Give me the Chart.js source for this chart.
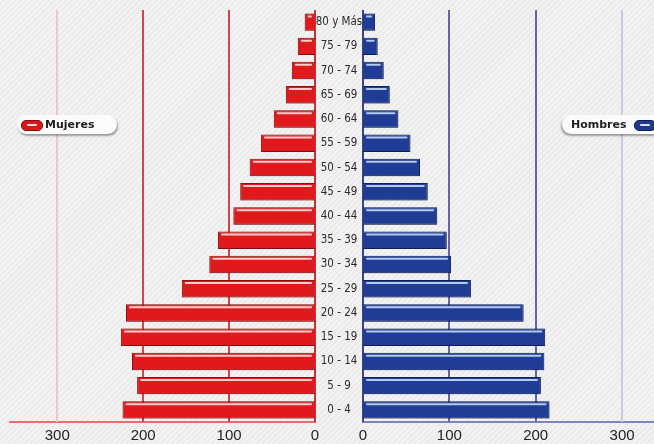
<!DOCTYPE html>
<html>
<head>
<meta charset="utf-8">
<script src="https://cdn.jsdelivr.net/npm/chart.js@4/dist/chart.umd.min.js"></script>
<style>
  html, body { margin: 0; padding: 0; }
  body {
    width: 654px; height: 444px; overflow: hidden; position: relative;
    background: repeating-linear-gradient(135deg, #f3f3f3 0px, #f3f3f3 2px, #ebebeb 2px, #ebebeb 4px);
  }
  canvas { position: absolute; top: 0; }
  #left { left: 0; }
  #right { left: 315px; }
  .pill {
    position: absolute; top: 115px; height: 19px;
    background: #fbfbfb; border-radius: 10px;
    font: bold 11px "DejaVu Sans", sans-serif; color: #222;
    line-height: 19px; white-space: nowrap;
  }
  .pill .ico {
    position: absolute; top: 5px; width: 20px; height: 9px; border-radius: 5px;
  }
  .pill .ico::after {
    content: ""; position: absolute; left: 5px; right: 5px; top: 3px; height: 2px;
    background: rgba(255,255,255,0.85); border-radius: 1px;
  }
  #legM { left: 17px; width: 100px; box-shadow: 1px 2px 2px rgba(0,0,0,0.35); }
  #legM .ico { left: 4px; background: #d9171c; border: 1px solid #8e0c0c; }
  #legM span { position: absolute; left: 28px; }
  #legH { left: 562px; width: 110px; box-shadow: -1px 2px 2px rgba(0,0,0,0.35); }
  #legH .ico { left: 72px; background: #1e3a8e; border: 1px solid #0d1f55; }
  #legH span { position: absolute; left: 9px; }
</style>
</head>
<body>
<canvas id="left" width="339" height="444"></canvas>
<canvas id="right" width="339" height="444"></canvas>
<div class="pill" id="legM"><div class="ico"></div><span>Mujeres</span></div>
<div class="pill" id="legH"><span>Hombres</span><div class="ico"></div></div>
<script>
const ageGroups = ['80 y Más', '75 - 79', '70 - 74', '65 - 69', '60 - 64', '55 - 59', '50 - 54',
  '45 - 49', '40 - 44', '35 - 39', '30 - 34', '25 - 29', '20 - 24', '15 - 19', '10 - 14', '5 - 9', '0 - 4']
const mujeres = [12, 20, 27, 34, 48, 63, 76, 87, 95, 113, 123, 155, 220, 226, 213, 207, 224]
const hombres = [14, 17, 24, 31, 41, 55, 66, 75, 86, 97, 102, 125, 186, 211, 210, 206, 216]
const xTicks = [0, 100, 200, 300]

// vertical lines drawn at the tick values of the x scale
function gridPlugin(cols) {
  return {
    id: 'vgrid',
    beforeDatasetsDraw(chart) {
      const ctx = chart.ctx
      const x = chart.scales.x
      const area = chart.chartArea
      ctx.save()
      ctx.lineWidth = 2
      xTicks.forEach((v, i) => {
        const px = Math.round(x.getPixelForValue(v))
        ctx.strokeStyle = cols[i]
        ctx.beginPath()
        ctx.moveTo(px, area.top)
        ctx.lineTo(px, area.bottom)
        ctx.stroke()
      })
      ctx.restore()
    }
  }
}

// shadow under bars + light stripe on top of each bar
function glossPlugin(stripe) {
  return {
    id: 'gloss',
    beforeDatasetsDraw(chart) {
      const ctx = chart.ctx
      ctx.save()
      ctx.shadowColor = 'rgba(0,0,0,0.3)'
      ctx.shadowBlur = 3
      ctx.shadowOffsetY = 1
    },
    afterDatasetsDraw(chart) {
      const ctx = chart.ctx
      ctx.restore()
      ctx.save()
      ctx.strokeStyle = stripe
      ctx.lineWidth = 2
      ctx.lineCap = 'round'
      chart.getDatasetMeta(0).data.forEach(bar => {
        const p = bar.getProps(['x', 'y', 'base', 'height'], true)
        const l = Math.min(p.x, p.base), r = Math.max(p.x, p.base)
        const yy = p.y - p.height / 2 + 3
        ctx.beginPath()
        ctx.moveTo(l + 4, yy)
        ctx.lineTo(r - 4, yy)
        ctx.stroke()
      })
      ctx.restore()
    }
  }
}

const ageLabels = {
  id: 'ageLabels',
  afterDraw(chart) {
    const ctx = chart.ctx
    const yScale = chart.scales.y
    ctx.save()
    ctx.fillStyle = '#2a2a2a'
    ctx.font = '11.5px "DejaVu Sans Condensed", "DejaVu Sans", sans-serif'
    ctx.textAlign = 'center'
    ctx.textBaseline = 'middle'
    ageGroups.forEach((g, i) => {
      ctx.fillText(g, chart.chartArea.left - 24, yScale.getPixelForTick(i))
    })
    ctx.restore()
  }
}

function makeOptions(reverse, max, axisCol, padding) {
  return {
    indexAxis: 'y',
    responsive: false,
    animation: false,
    layout: { padding: padding },
    plugins: { legend: { display: false }, tooltip: { enabled: false } },
    scales: {
      y: { display: false },
      x: {
        reverse: reverse,
        min: 0,
        max: max,
        afterFit: (s) => { s.height = 22 },
        afterBuildTicks: (s) => { s.ticks = xTicks.map(v => ({ value: v })) },
        grid: { display: false, drawTicks: false },
        border: { color: axisCol, width: 2 },
        ticks: {
          padding: 5,
          color: '#222',
          font: { family: 'Liberation Sans, Arial, sans-serif', size: 15 }
        }
      }
    }
  }
}

new Chart(document.getElementById('left'), {
  type: 'bar',
  data: {
    labels: ageGroups,
    datasets: [{
      label: 'Mujeres',
      data: mujeres,
      backgroundColor: '#e0191d',
      borderColor: '#9a0e0e',
      borderWidth: 1,
      barPercentage: 0.72,
      categoryPercentage: 1
    }]
  },
  options: makeOptions(true, 355, '#ee6b6b', { top: 10, left: 10, right: 24, bottom: 0 }),
  plugins: [gridPlugin(['#c8323c', '#d4444e', '#d4444e', '#f2c4ca']), glossPlugin('rgba(255,215,215,0.95)')]
})

new Chart(document.getElementById('right'), {
  type: 'bar',
  data: {
    labels: ageGroups,
    datasets: [{
      label: 'Hombres',
      data: hombres,
      backgroundColor: '#1f3d95',
      borderColor: '#10245e',
      borderWidth: 1,
      barPercentage: 0.72,
      categoryPercentage: 1
    }]
  },
  options: makeOptions(false, 337, '#8184b8', { top: 10, left: 48, right: 0, bottom: 0 }),
  plugins: [gridPlugin(['#3e4288', '#63669f', '#63669f', '#cacae4']), glossPlugin('rgba(190,210,245,0.95)'), ageLabels]
})
</script>
</body>
</html>
